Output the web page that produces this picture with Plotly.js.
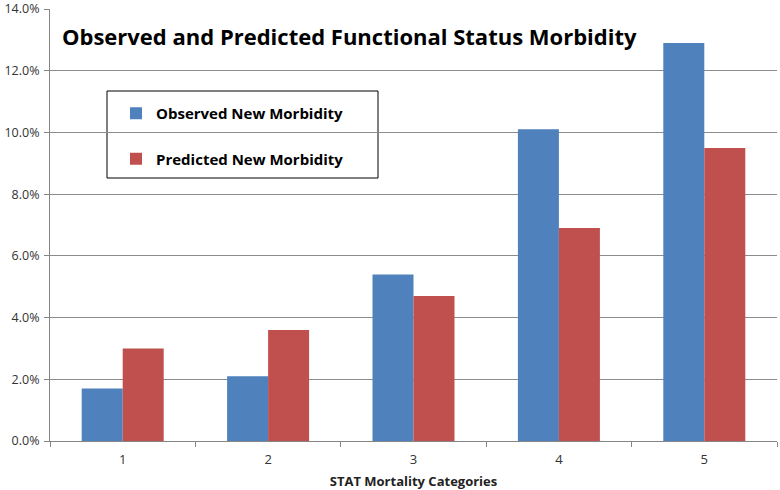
<!DOCTYPE html>
<html>
<head>
<meta charset="utf-8">
<script src="https://cdn.plot.ly/plotly-3.0.1.min.js"></script>
<style>html,body{margin:0;padding:0;background:#fff;}#chart{width:780px;height:490px;}</style>
</head>
<body>
<div id="chart"></div>
<script>
const categories = ["1", "2", "3", "4", "5"];
const observed = [0.017, 0.021, 0.054, 0.101, 0.129];
const predicted = [0.030, 0.036, 0.047, 0.069, 0.095];
const seriesNames = ["Observed New Morbidity", "Predicted New Morbidity"];
const yTicks = [0, 0.02, 0.04, 0.06, 0.08, 0.10, 0.12, 0.14];
const yTickLabels = ["0.0%", "2.0%", "4.0%", "6.0%", "8.0%", "10.0%", "12.0%", "14.0%"];

const traces = [
  {type: "bar", name: seriesNames[0], x: categories, y: observed, marker: {color: "#4F81BD"}, legendgroup: "a"},
  {type: "bar", name: seriesNames[1], x: categories, y: predicted, marker: {color: "#C0504D"}, legendgroup: "b"}
];

const T = 9;
const H = 441 - T;

const layout = {
  width: 780, height: 490,
  margin: {l: 50, r: 3, t: T, b: 49},
  paper_bgcolor: "#fff", plot_bgcolor: "#fff",
  barmode: "group", bargap: 0.436, bargroupgap: 0,
  font: {family: "Open Sans, sans-serif", color: "#404040"},
  xaxis: {
    type: "category",
    showline: true, linecolor: "#868686", linewidth: 1,
    ticks: "outside", tickson: "boundaries", ticklen: 5, tickcolor: "#868686",
    tickfont: {size: 13, color: "#333"},
    ticklabelstandoff: 6,
    showgrid: false,
    title: {text: "<b>STAT Mortality Categories</b>", font: {size: 13, color: "#222"}, standoff: 10}
  },
  yaxis: {
    range: [0, 0.14001],
    tickvals: yTicks, ticktext: yTickLabels,
    showline: true, linecolor: "#868686", linewidth: 1,
    ticks: "outside", ticklen: 5, tickcolor: "#868686",
    tickfont: {size: 12.5, color: "#333"},
    ticklabelstandoff: 2,
    ticklabeloverflow: "allow",
    showgrid: true, gridcolor: "#8c8c8c", gridwidth: 1,
    zeroline: false
  },
  title: {
    text: "<b>Observed and Predicted Functional Status Morbidity</b>",
    font: {size: 22, color: "#000", family: "Open Sans, sans-serif"},
    x: 62/780, xanchor: "left", y: 1 - 37/490, yanchor: "middle"
  },
  showlegend: true,
  legend: {
    x: (116 - 50)/727, xanchor: "left",
    y: 1 - (97 - T)/H, yanchor: "top",
    bgcolor: "rgba(0,0,0,0)", borderwidth: 0,
    traceorder: "grouped", tracegroupgap: 23,
    font: {size: 15, color: "#000", family: "Open Sans, sans-serif", weight: "bold"},
    itemwidth: 30
  },
  shapes: [
    {type: "rect", xref: "paper", yref: "paper",
     x0: (107 - 50)/727, x1: (378 - 50)/727,
     y0: 1 - (178 - T)/H, y1: 1 - (91 - T)/H,
     line: {color: "#000", width: 1}, fillcolor: "#fff", layer: "below"}
  ]
};

Plotly.newPlot("chart", traces, layout, {displayModeBar: false, staticPlot: true});
</script>
</body>
</html>
